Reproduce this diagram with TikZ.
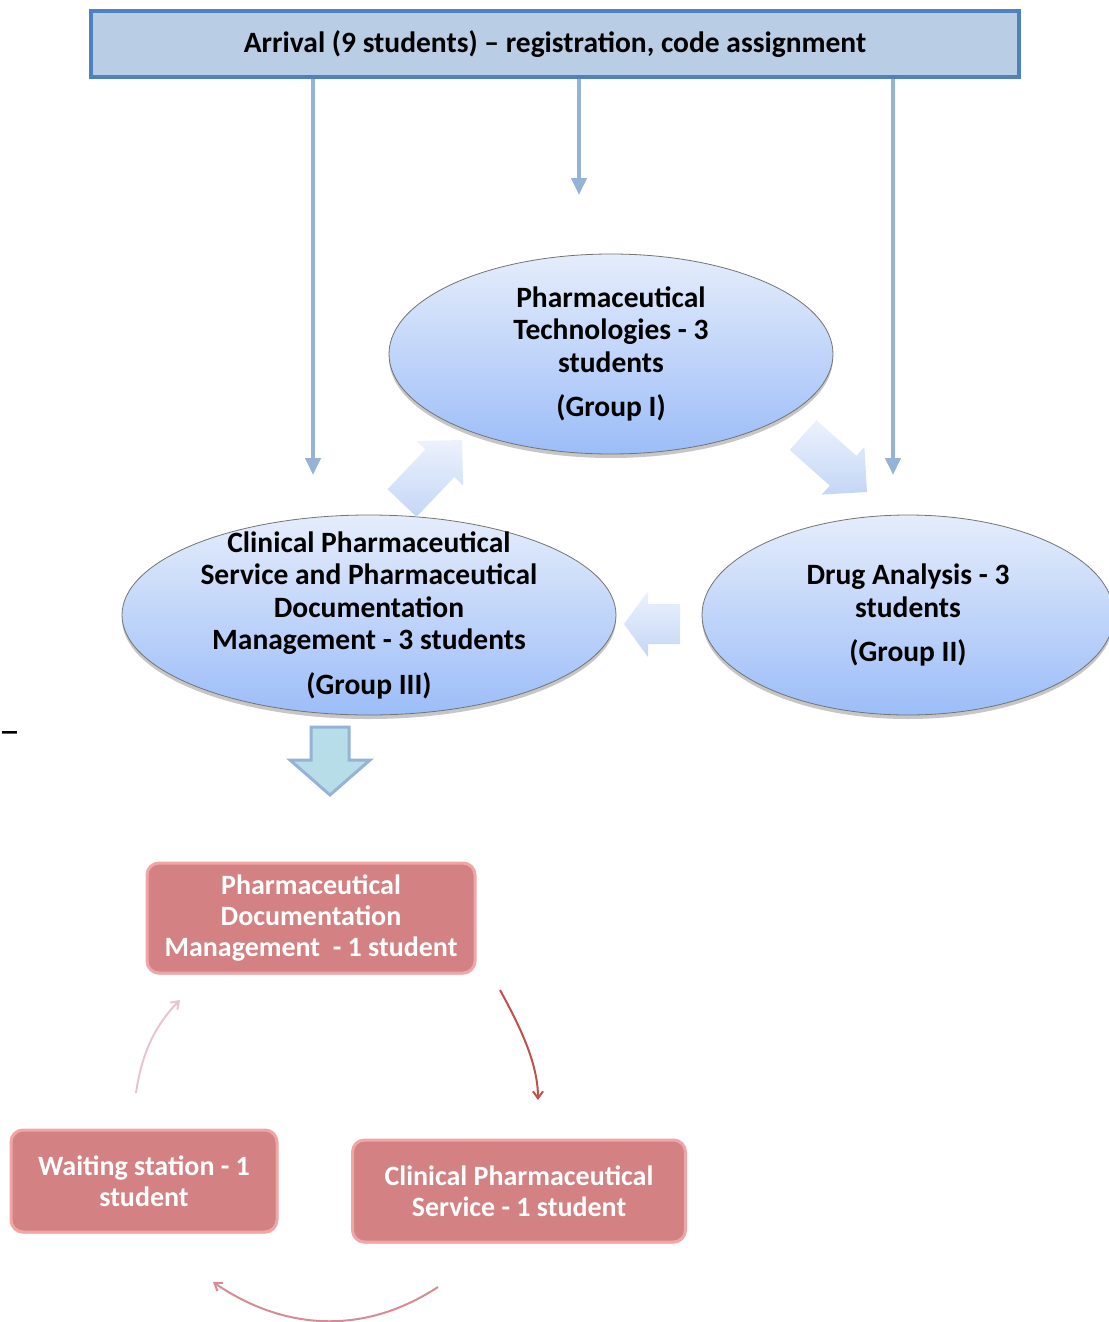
\documentclass[tikz,border=0pt]{standalone}
\usepackage{fontspec}
\setmainfont{Carlito}
\usetikzlibrary{shapes.geometric,shadows,arrows.meta}

\begin{document}
\begin{tikzpicture}[x=1pt,y=-1pt,
  txt/.style={font=\fontsize{29.5}{32.5}\selectfont\bfseries, align=center, inner sep=0pt},
  feed/.style={draw=feedblue, line width=4pt, -{Triangle[length=17pt,width=15pt]}},
  grp/.style={ellipse, draw=black!55, line width=0.8pt, top color=grptop, bottom color=grpbot, minimum width=#1, minimum height=200pt, inner sep=0pt, drop shadow={shadow xshift=0pt, shadow yshift=-4pt, opacity=0.45}},
  turn/.style={top color=turntop, bottom color=turnbot},
  stn/.style={txt, font=\fontsize{28}{31}\selectfont\bfseries, rounded corners=12pt, fill=stnface, draw=stnedge, line width=3pt, text=white, drop shadow={shadow xshift=0pt, shadow yshift=-2pt, opacity=0.2}},
  loop/.style={line width=2pt, -{Straight Barb[length=7pt,width=10pt]}}]
\definecolor{feedblue}{RGB}{149,179,215}
\definecolor{boxfill}{RGB}{185,205,229}
\definecolor{boxedge}{RGB}{79,129,189}
\definecolor{grptop}{RGB}{229,237,251}
\definecolor{grpbot}{RGB}{156,189,248}
\definecolor{turntop}{RGB}{236,242,253}
\definecolor{turnbot}{RGB}{196,214,246}
\definecolor{downfill}{RGB}{183,221,232}
\definecolor{stnface}{RGB}{211,129,130}
\definecolor{stnedge}{RGB}{240,166,166}
\useasboundingbox (0,0) rectangle (1108,1322);

% arrival
\node[txt, draw=boxedge, fill=boxfill, line width=4pt, minimum width=928pt, minimum height=66pt] (arrival) at (555,44) {Arrival (9 students) – registration, code assignment};

% the three groups
\node[grp=444pt] (gI) at (611,354) {};
\node[txt] at (gI) {Pharmaceutical\\Technologies - 3\\students\\[12pt](Group I)};
\node[grp=412pt] (gII) at (908,615) {};
\node[txt] at (gII) {Drug Analysis - 3\\students\\[12pt](Group II)};
\node[grp=494pt] (gIII) at (369,615) {};
\node[txt] at (gIII) {Clinical Pharmaceutical\\Service and Pharmaceutical\\Documentation\\Management - 3 students\\[12pt](Group III)};

\coordinate (toIII) at (313,475);
\coordinate (toI) at (579,195);
\coordinate (toII) at (893,475);
\draw[feed] (arrival.south -| toIII) -- (toIII);
\draw[feed] (arrival.south -| toI) -- (toI);
\draw[feed] (arrival.south -| toII) -- (toII);

% rotation between groups
\shade[turn] (416.5,516.8) -- (387.5,489.2) -- (425.4,449.4) -- (416.7,441.1) -- (462,440) -- (463.1,485.3) -- (454.4,477) -- cycle;
\shade[turn] (789.7,449.9) -- (816.3,420.1) -- (856.4,455.8) -- (864.4,446.8) -- (867,492) -- (821.8,494.6) -- (829.8,485.6) -- cycle;
\shade[turn] (680,604) -- (648,604) -- (648,591) -- (624,624) -- (648,657) -- (648,644) -- (680,644) -- cycle;

\node[font=\fontsize{42}{44}\selectfont, anchor=west, inner sep=0pt] (dash) at (-1,738) {–};

% group III split
\draw[draw=feedblue, fill=downfill, line width=3pt] (311,727) -- (349,727) -- (349,760) -- (370,760) -- (330,795) -- (290,760) -- (311,760) -- cycle;

\node[stn, minimum width=328pt, minimum height=110pt] (doc) at (311,918) {Pharmaceutical\\Documentation\\Management~~- 1 student};
\node[stn, minimum width=266pt, minimum height=102pt] (wait) at (144,1181) {Waiting station - 1\\student};
\node[stn, minimum width=333pt, minimum height=102pt] (clin) at (519,1191) {Clinical Pharmaceutical\\Service - 1 student};

\coordinate (a1) at (500,990);
\coordinate (a2) at (538,1100);
\coordinate (b1) at (438,1287);
\coordinate (b2) at (213,1282);
\coordinate (c1) at (136,1093);
\coordinate (c2) at (180,1000);
\draw[loop, draw={rgb,255:red,192;green,80;blue,77}] (a1) .. controls (522,1030) and (538,1065) .. (a2);
\draw[loop, draw={rgb,255:red,214;green,140;blue,148}] (b1) .. controls (360,1338) and (280,1328) .. (b2);
\draw[loop, draw={rgb,255:red,234;green,196;blue,204}] (c1) .. controls (142,1050) and (158,1022) .. (c2);
\end{tikzpicture}
\end{document}
